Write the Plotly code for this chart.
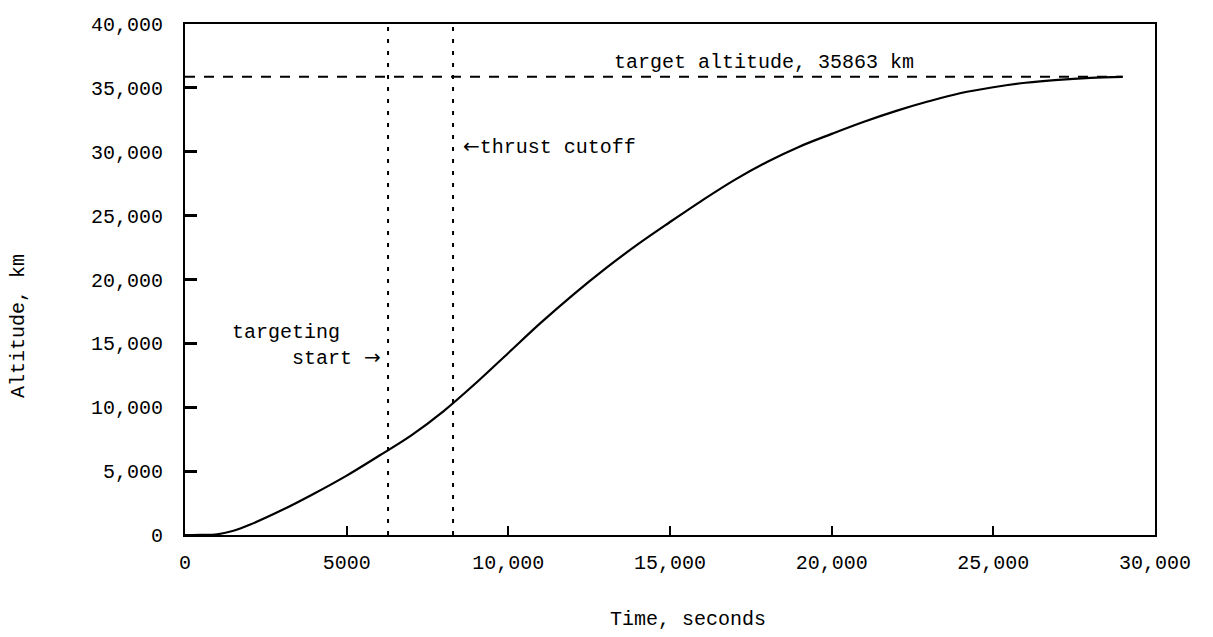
import plotly.graph_objects as go

# ---- data ----
time_s = [0, 500, 1000, 1500, 2000, 3000, 4000, 5000, 6000, 7000, 8000, 9000, 10000,
          11000, 12000, 13000, 14000, 15000, 16000, 17000, 18000, 19000, 20000,
          21000, 22000, 23000, 24000, 25000, 26000, 27000, 28000, 29000]
altitude_km = [0, 5, 60, 330, 800, 1950, 3250, 4650, 6200, 7800, 9700, 11900, 14250,
               16600, 18800, 20850, 22750, 24500, 26200, 27800, 29200, 30400, 31400,
               32350, 33200, 33950, 34600, 35050, 35400, 35630, 35780, 35863]

target_altitude = 35863
targeting_start = 6280
thrust_cutoff = 8290

x_tickvals = [0, 5000, 10000, 15000, 20000, 25000, 30000]
x_ticktext = ["0", "5000", "10,000", "15,000", "20,000", "25,000", "30,000"]
y_tickvals = [0, 5000, 10000, 15000, 20000, 25000, 30000, 35000, 40000]
y_ticktext = ["0", "5,000", "10,000", "15,000", "20,000", "25,000", "30,000", "35,000", "40,000"]

FONT = "Liberation Mono, Courier New, monospace"
FS = 20

fig = go.Figure()

# target altitude dashed line
fig.add_trace(go.Scatter(
    x=[0, time_s[-1]], y=[target_altitude, target_altitude], mode="lines",
    line=dict(color="black", width=2, dash="10px,9px"), hoverinfo="skip", showlegend=False))

# vertical event lines
for t in (targeting_start, thrust_cutoff):
    fig.add_trace(go.Scatter(
        x=[t, t], y=[0, 40000], mode="lines",
        line=dict(color="black", width=2, dash="4px,8px"), hoverinfo="skip", showlegend=False))

# altitude curve
fig.add_trace(go.Scatter(
    x=time_s, y=altitude_km, mode="lines",
    line=dict(color="black", width=2.2, shape="spline", smoothing=1.0),
    showlegend=False, name="Altitude"))

fig.update_layout(
    width=1213, height=637,
    margin=dict(l=185, r=58, t=24, b=102),
    paper_bgcolor="white", plot_bgcolor="white",
    font=dict(family=FONT, size=FS, color="black"),
    showlegend=False,
)

fig.update_xaxes(
    range=[0, 30000], tickvals=x_tickvals, ticktext=x_ticktext,
    ticks="inside", ticklen=9, tickwidth=1.5, tickcolor="black",
    showline=True, linecolor="black", linewidth=2, mirror=True,
    showgrid=False, zeroline=False, ticklabelstandoff=8,
    tickfont=dict(family=FONT, size=FS, color="black"),
)
fig.update_yaxes(
    range=[0, 40000], tickvals=y_tickvals, ticktext=y_ticktext,
    ticks="inside", ticklen=12, tickwidth=2.5, tickcolor="black",
    showline=True, linecolor="black", linewidth=2, mirror=True,
    showgrid=False, zeroline=False, ticklabelstandoff=16,
    tickfont=dict(family=FONT, size=FS, color="black"),
)

ARROW_L = '<span style="font-family:DejaVu Sans">\u2190</span>'
ARROW_R = '<span style="font-family:DejaVu Sans">\u2192</span>'
NB = "\u00a0"

annots = [
    dict(text="target altitude, 35863 km", x=13200, y=36950, xanchor="left", yanchor="middle"),
    dict(text=ARROW_L + "thrust cutoff", x=8550, y=30400, xanchor="left", yanchor="middle"),
    dict(text="targeting<br>" + NB * 5 + "start " + ARROW_R, x=1390, y=14800,
         xanchor="left", yanchor="middle", align="left"),
]
for a in annots:
    fig.add_annotation(xref="x", yref="y", showarrow=False,
                       font=dict(family=FONT, size=FS, color="black"), **a)

# axis titles
fig.add_annotation(text="Altitude, km", xref="paper", yref="paper", x=-(185 - 18) / 970,
                   y=(535 - 326) / 511, textangle=-90, showarrow=False,
                   xanchor="center", yanchor="middle",
                   font=dict(family=FONT, size=FS, color="black"))
fig.add_annotation(text="Time, seconds", xref="paper", yref="paper", x=(688 - 185) / 970,
                   y=-(619 - 535) / 511, showarrow=False, xanchor="center", yanchor="middle",
                   font=dict(family=FONT, size=FS, color="black"))

fig.write_html("out.html")
